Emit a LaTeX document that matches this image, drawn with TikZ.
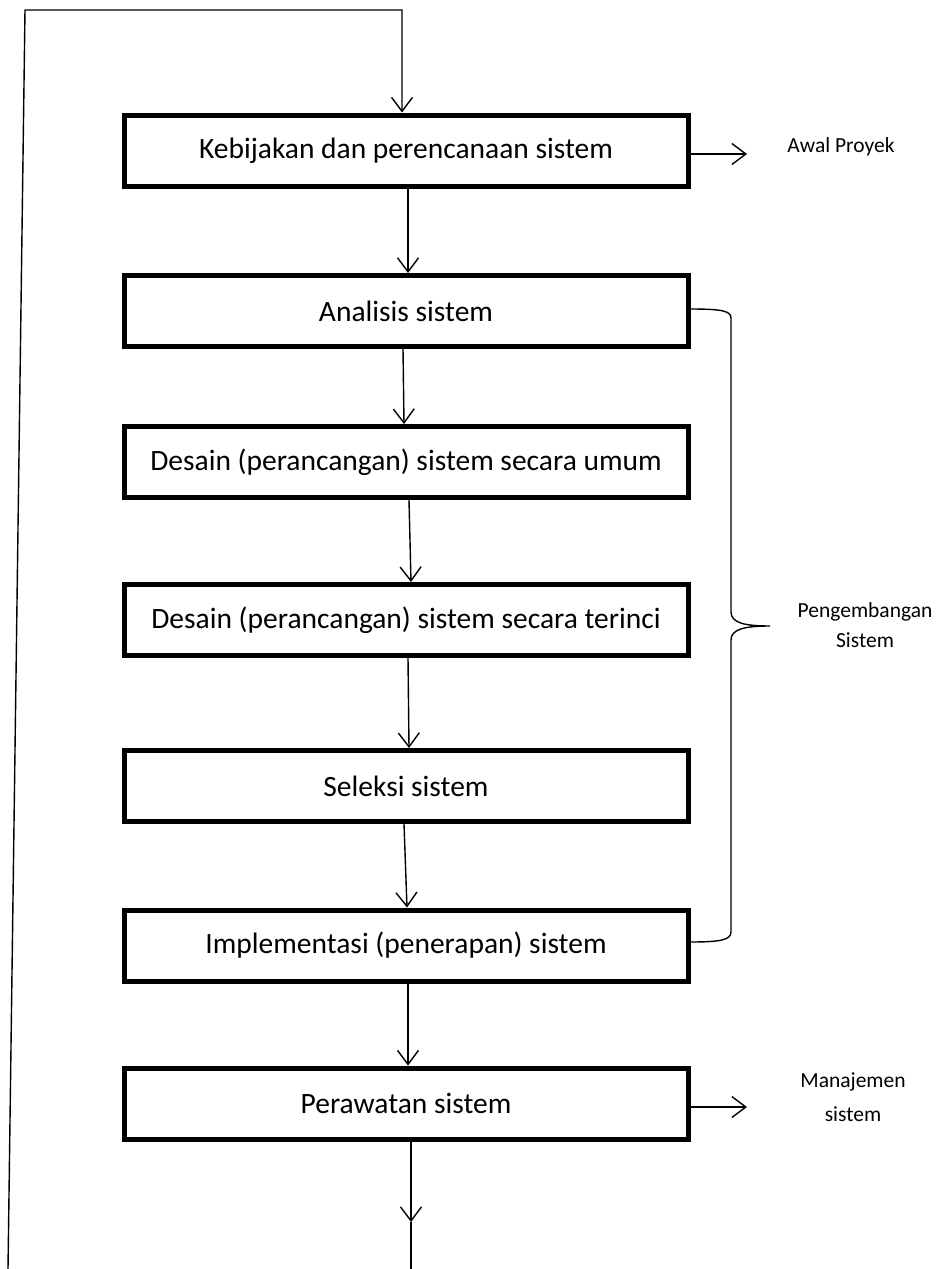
\documentclass[tikz,border=0pt]{standalone}
\usepackage{fontspec}
\setmainfont{Carlito}
\usetikzlibrary{arrows.meta}
\begin{document}
\begin{tikzpicture}[x=1pt,y=-1pt,
  stepbox/.style={draw, line width=5pt, minimum width=564pt, minimum height=71pt,
    inner sep=0pt, font=\fontsize{29.5}{35}\selectfont},
  arr/.style={line width=1.4pt, -{Straight Barb[length=14pt,width=21pt,line width=1.4pt]}},
  thin/.style={line width=1.4pt},
  side/.style={font=\fontsize{21.5}{30}\selectfont, align=center, inner sep=0pt}]
\useasboundingbox (0,0) rectangle (939,1269);
\node[stepbox] (b1) at (406,150.5) {Kebijakan dan perencanaan sistem};
\node[stepbox] (b2) at (406,311) {Analisis sistem};
\node[stepbox] (b3) at (406,462) {Desain (perancangan) sistem secara umum};
\node[stepbox] (b4) at (406,620) {Desain (perancangan) sistem secara terinci};
\node[stepbox] (b5) at (406,786) {Seleksi sistem};
\node[stepbox] (b6) at (406,945.5) {Implementasi (penerapan) sistem};
\node[stepbox] (b7) at (406,1103.5) {Perawatan sistem};
% vertical flow
\draw[arr] ([xshift=2pt]b1.south) -- ([xshift=2pt]b2.north);
\draw[arr] ([xshift=-3pt]b2.south) -- ([xshift=-2pt]b3.north);
\draw[arr] ([xshift=3pt]b3.south) -- ([xshift=5pt]b4.north);
\draw[arr] ([xshift=2pt]b4.south) -- ([xshift=3pt]b5.north);
\draw[arr] ([xshift=-2pt]b5.south) -- ([xshift=1pt]b6.north);
\draw[arr] ([xshift=2pt]b6.south) -- ([xshift=2pt]b7.north);
% bottom exit
\coordinate (mt) at (411,1222);
\coordinate (bt) at (411,1269);
\draw[arr] ([xshift=5pt]b7.south) -- (mt);
\draw[thin] (mt) -- (bt);
% feedback loop
\coordinate (lb) at (8,1269);
\coordinate (lt) at (25,10);
\coordinate (rt) at (402,10);
\draw[arr] (lb) -- (lt) -- (rt) -- ([xshift=-4pt]b1.north);
% side arrows
\coordinate (ae) at (747,154);
\coordinate (me) at (747,1107);
\draw[arr] ([yshift=-3.5pt]b1.east) -- (ae);
\draw[arr] ([yshift=-3.5pt]b7.east) -- (me);
\node[side, anchor=base] (awal) at (841,152) {Awal Proyek};
\node[side, anchor=base, font=\fontsize{21.5}{34}\selectfont] (mgm) at (853,1121) {Manajemen\\sistem};
% brace
\draw[thin] ([yshift=2pt]b2.east) .. controls (722,309) and (731,311) .. (731,318)
  -- (731,612) .. controls (731,623) and (745,626) .. (770,626)
  .. controls (745,626) and (731,629) .. (731,640)
  -- (731,932) .. controls (731,940) and (720,942) .. ([yshift=3.5pt]b6.east);
\node[side, anchor=base] (peng) at (865,647) {Pengembangan\\Sistem};
\end{tikzpicture}
\end{document}
